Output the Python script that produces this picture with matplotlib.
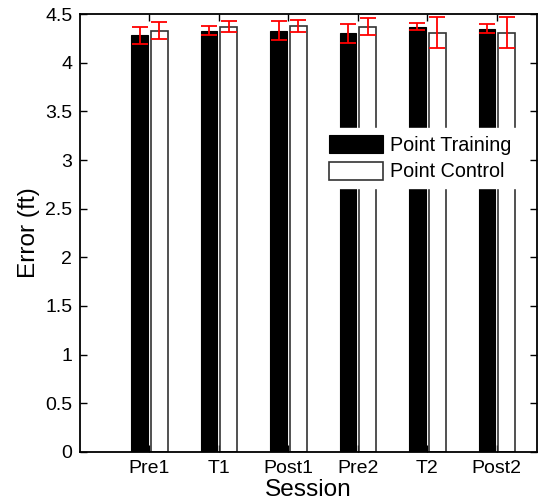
import matplotlib
matplotlib.use("Agg")
import matplotlib.pyplot as plt
import numpy as np

plt.rcParams['font.family'] = ['Liberation Sans', 'DejaVu Sans']

sessions = ['Pre1', 'T1', 'Post1', 'Pre2', 'T2', 'Post2']
training = [4.28, 4.33, 4.33, 4.30, 4.37, 4.35]
training_err = [0.09, 0.05, 0.10, 0.10, 0.035, 0.05]
control = [4.33, 4.37, 4.38, 4.37, 4.31, 4.31]
control_err = [0.085, 0.055, 0.06, 0.09, 0.16, 0.16]

x = np.arange(1, len(sessions) + 1)
w = 0.24
off = 0.142

fig = plt.figure(figsize=(5.39, 5.04), dpi=100)
ax = fig.add_axes([0.1484, 0.1032, 0.848, 0.869])

ax.bar(x - off, training, w, color='black', edgecolor='black', linewidth=0.8,
       label='Point Training', zorder=2)
ax.bar(x + off, control, w, color='white', edgecolor='#333333', linewidth=1.2,
       label='Point Control', zorder=2)
ax.errorbar(x - off, training, yerr=training_err, fmt='none', ecolor='red',
            elinewidth=1.3, capsize=5.5, capthick=1.3, zorder=3)
ax.errorbar(x + off, control, yerr=control_err, fmt='none', ecolor='red',
            elinewidth=1.3, capsize=5.5, capthick=1.3, zorder=3)

ax.set_xlim(0, 6.58)
ax.set_ylim(0, 4.5)
ax.set_yticks(np.arange(0, 4.51, 0.5))
ax.set_yticklabels(['0', '0.5', '1', '1.5', '2', '2.5', '3', '3.5', '4', '4.5'])
ax.set_xticks(x)
ax.set_xticklabels(sessions)
ax.tick_params(direction='in', top=True, right=True, length=5, width=1,
               labelsize=14, pad=5.5)
for s in ax.spines.values():
    s.set_linewidth(1.3)
    s.set_zorder(4)

ax.set_xlabel('Session', fontsize=17.6, labelpad=2)
ax.set_ylabel('Error (ft)', fontsize=17.6, labelpad=4)

leg = ax.legend(loc='upper left', bbox_to_anchor=(0.53, 0.74), frameon=True,
                fancybox=False, facecolor='white', edgecolor='white',
                framealpha=1, fontsize=14.2, handlelength=2.75,
                handleheight=1.05, handletextpad=0.32, labelspacing=0.35,
                borderpad=0.35, borderaxespad=0)
leg.set_zorder(5)

fig.savefig('out.png', dpi=100)
